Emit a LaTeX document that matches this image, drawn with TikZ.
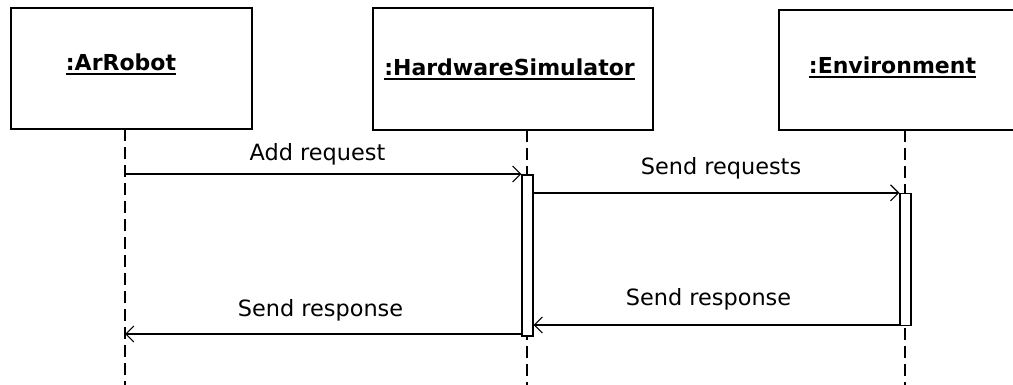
\documentclass[tikz,border=0pt]{standalone}
\usepackage{fontspec}
\setmainfont{DejaVu Sans}
\usetikzlibrary{arrows.meta}
% underlined object name, rule drawn just below the baseline
\newcommand\objname[1]{\setbox0\hbox{\bfseries #1}\rlap{\rule[-4pt]{\wd0}{2pt}}\box0}
\tikzset{
  objbox/.style={draw, line width=1.5pt, fill=white, inner sep=0pt},
  objtitle/.style={font=\fontsize{22}{26}\selectfont, inner sep=0pt, anchor=base},
  lifeline/.style={line width=1.3pt, dash pattern=on 12pt off 6pt},
  actbar/.style={draw, line width=1.3pt, fill=white, inner sep=0pt, minimum width=11pt},
  msg/.style={line width=1.6pt, -{Straight Barb[length=8pt,width=16pt,line width=1.1pt]}},
  msglabel/.style={font=\fontsize{22.4}{26}\selectfont, inner sep=0pt, anchor=base}
}
\begin{document}
\begin{tikzpicture}[x=1pt,y=-1pt]
  \useasboundingbox (0,0) rectangle (1013,385);
  \clip (0,0) rectangle (1013,385);
  \fill[white] (0,0) rectangle (1013,385);

  % object boxes
  \node[objbox, minimum width=241pt, minimum height=121pt] (robot) at (131.5,68.5) {};
  \node[objbox, minimum width=280pt, minimum height=122pt] (hw) at (513,69) {};
  \node[objbox, minimum width=260pt, minimum height=120pt] (env) at (909,70) {};

  \node[objtitle] (robotname) at (121,71) {\objname{:ArRobot}};
  \node[objtitle] (hwname) at (509.5,76) {\objname{:HardwareSimulator}};
  \node[objtitle] (envname) at (892.5,74) {\objname{:Environment}};

  % lifeline ends
  \coordinate (robottop) at (125,129);
  \coordinate (robotend) at (125,385);
  \coordinate (hwtop) at (527,130);
  \coordinate (hwend) at (527,385);
  \coordinate (envtop) at (905,130);
  \coordinate (envend) at (905,385);

  \draw[lifeline] (robottop) -- (robotend);
  \draw[lifeline] (hwtop) -- (hwend);
  \draw[lifeline] (envtop) -- (envend);

  % activation bars
  \node[actbar, minimum height=161pt] (hwbar) at (527.5,255.5) {};
  \node[actbar, minimum height=132pt] (envbar) at (905.5,259.5) {};

  % message end points on the lifelines
  \coordinate (addfrom) at (125,174);
  \coordinate (respto) at (125,334);

  % messages
  \draw[msg] (addfrom) -- (addfrom -| hwbar.west);
  \node[msglabel] (addlabel) at (317.5,161) {Add request};

  \draw[msg] (hwbar.east |- envbar.north) -- (envbar.north west);
  \node[msglabel] (reqlabel) at (721,175) {Send requests};

  \draw[msg] (envbar.south west |- 0,325) -- (hwbar.east |- 0,325);
  \node[msglabel] (envresplabel) at (708.5,305) {Send response};

  \draw[msg] (hwbar.west |- respto) -- (respto);
  \node[msglabel] (hwresplabel) at (320.5,316) {Send response};
\end{tikzpicture}
\end{document}
